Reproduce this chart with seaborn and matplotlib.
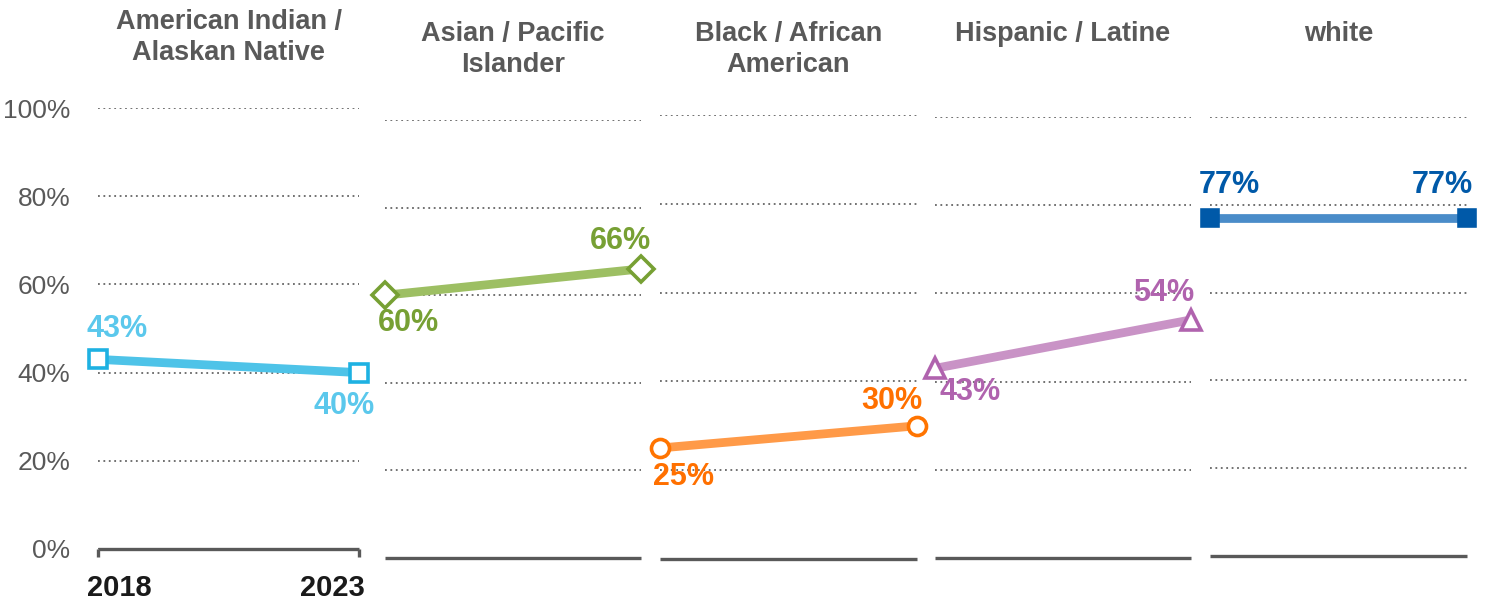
import pandas as pd
import matplotlib
matplotlib.use("Agg")
import matplotlib.pyplot as plt
import matplotlib.transforms as mtransforms
import seaborn as sns

# Data
groups = ["American Indian /\nAlaskan Native", "Asian / Pacific\nIslander",
          "Black / African\nAmerican", "Hispanic / Latine", "white"]
years = [2018, 2023]
pct_2018 = [43, 60, 25, 43, 77]
pct_2023 = [40, 66, 30, 54, 77]

rows = []
for g, a, b in zip(groups, pct_2018, pct_2023):
    rows.append({"group": g, "year": years[0], "pct": a})
    rows.append({"group": g, "year": years[1], "pct": b})
df = pd.DataFrame(rows)

# styling per panel
line_colors = ["#4EC3E8", "#9DBF63", "#FF9A48", "#C993C6", "#4A8CC9"]
edge_colors = ["#1EB1E2", "#77A034", "#FF7400", "#B063AE", "#0059A8"]
face_colors = ["white", "white", "white", "white", "#0059A8"]
text_colors = ["#5BC8EC", "#77A034", "#FF7000", "#B063AE", "#0059A8"]
markers = ["s", "D", "o", "^", "s"]
msizes = [13, 13, 13, 15, 11]

# panel extents in pixels: left, right, top (100%), bottom (0%)
panels = [(98, 359, 108, 549), (385, 641, 120, 558), (660, 917, 115, 559),
          (935, 1191, 117, 558), (1210, 1467, 117, 556)]
title_top = [9, 21, 21, 21, 21]
# label offsets in points (start label, end label)
offsets = [((14, 22), (-11, -24)), ((17, -20), (-15, 20)), ((17, -21), (-18, 18)),
           ((25, -17), (-20, 19)), ((14, 24), (-18, 24))]

sns.set_style("white")
plt.rcParams["font.family"] = ["Liberation Sans", "DejaVu Sans"]

W, H = 1488, 604
fig = plt.figure(figsize=(W / 100, H / 100), dpi=100)

for i, g in enumerate(groups):
    L, R, T, B = panels[i]
    ax = fig.add_axes([L / W, 1 - B / H, (R - L) / W, (B - T) / H])
    sub = df[df["group"] == g]

    sns.lineplot(data=sub, x="year", y="pct", ax=ax, errorbar=None,
                 color=line_colors[i], lw=6.3, marker=markers[i],
                 markersize=msizes[i], markeredgecolor=edge_colors[i],
                 markerfacecolor=face_colors[i], markeredgewidth=2.6,
                 clip_on=False, zorder=5)

    ax.set_xlim(years[0], years[1])
    ax.set_ylim(0, 100)
    ax.set_yticks(range(0, 101, 20))
    ax.grid(axis="y", linestyle=(0, (1, 2)), color="#666666", lw=1.3)
    ax.grid(axis="x", visible=False)
    ax.set_xlabel("")
    ax.set_ylabel("")
    for s in ["top", "left", "right"]:
        ax.spines[s].set_visible(False)
    ax.spines["bottom"].set_color("#595959")
    ax.spines["bottom"].set_linewidth(2.4)
    ax.spines["bottom"].set_capstyle("butt")
    ax.spines["bottom"].set_zorder(4)

    if i == 0:
        ax.set_yticklabels([f"{v}%" for v in range(0, 101, 20)])
        ax.tick_params(axis="y", length=0, pad=20, labelsize=19, labelcolor="#595959")
        ax.set_xticks(years)
        ax.set_xticklabels([str(y) for y in years], fontweight="bold")
        ax.tick_params(axis="x", bottom=True, length=6, width=2.4, color="#595959",
                       pad=12, labelsize=21, labelcolor="#1a1a1a", direction="out")
        xl = ax.get_xticklabels()
        xl[0].set_ha("left")
        xl[0].set_transform(xl[0].get_transform() +
                            mtransforms.ScaledTranslation(-11 / 100, 0, fig.dpi_scale_trans))
        xl[1].set_ha("right")
        xl[1].set_transform(xl[1].get_transform() +
                            mtransforms.ScaledTranslation(6 / 100, 0, fig.dpi_scale_trans))
    else:
        ax.set_yticks(range(20, 101, 20))
        ax.set_yticklabels([])
        ax.set_xticks([])
        ax.tick_params(axis="y", length=0)

    vals = [pct_2018[i], pct_2023[i]]
    for j in range(2):
        ax.annotate(f"{vals[j]}%", (years[j], vals[j]), xytext=offsets[i][j],
                    textcoords="offset points", ha="center", va="center",
                    fontsize=22, fontweight="bold", color=text_colors[i],
                    zorder=6, annotation_clip=False)

    fig.text((L + R) / 2 / W, 1 - title_top[i] / H, g, ha="center", va="top",
             fontsize=19.5, fontweight="bold", color="#595959", linespacing=1.25)

fig.savefig("out.png", dpi=100)
